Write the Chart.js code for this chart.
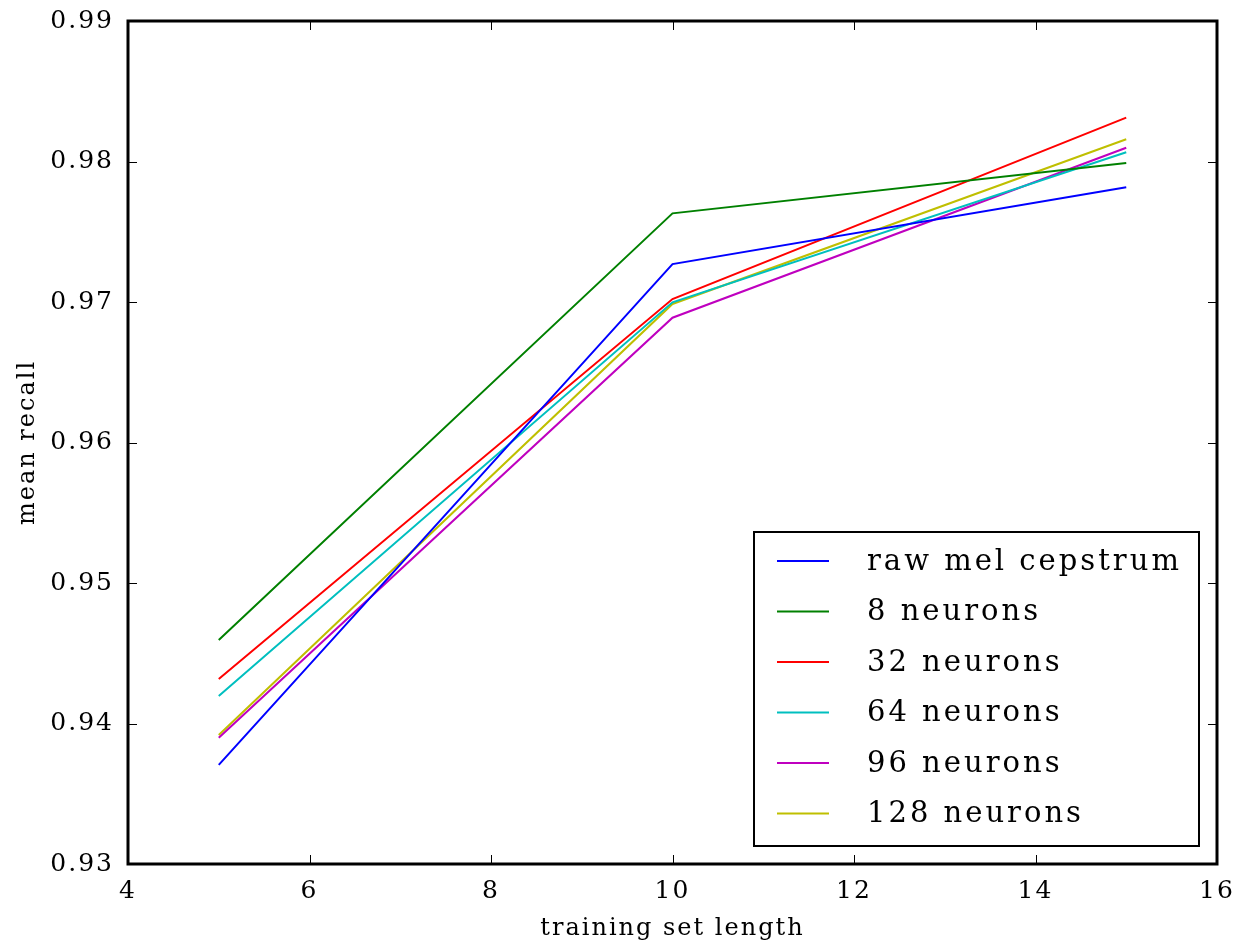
<!DOCTYPE html>
<html>
<head>
<meta charset="utf-8">
<script src="https://cdn.jsdelivr.net/npm/chart.js@4/dist/chart.umd.min.js"></script>
<style>
  html, body { margin: 0; padding: 0; background: #fff; }
  #wrap { width: 1237px; height: 946px; }
</style>
</head>
<body>
<div id="wrap"><canvas id="recallChart" width="1237" height="946"></canvas></div>
<script>
// training set lengths
const lengths = [5, 10, 15];

// mean recall per feature set
const rawMel = [0.93705, 0.97270, 0.97816];
const neurons8 = [0.94594, 0.97631, 0.97989];
const neurons32 = [0.94317, 0.97021, 0.98312];
const neurons64 = [0.94196, 0.96998, 0.98066];
const neurons96 = [0.93899, 0.96888, 0.98098];
const neurons128 = [0.93918, 0.96986, 0.98158];

const seriesNames = ['raw mel cepstrum', '8 neurons', '32 neurons', '64 neurons', '96 neurons', '128 neurons'];
const seriesColors = ['#0000ff', '#008000', '#ff0000', '#00bfbf', '#bf00bf', '#bfbf00'];

const xTicks = [4, 6, 8, 10, 12, 14, 16];
const yTicks = [0.93, 0.94, 0.95, 0.96, 0.97, 0.98, 0.99];

const FONT = "'DejaVu Serif', serif";

function toPoints(values) {
    return lengths.map((x, i) => ({ x: x, y: values[i] }));
}

const allSeries = [rawMel, neurons8, neurons32, neurons64, neurons96, neurons128];

// frame, inward ticks on all four sides, and the boxed legend
const framePlugin = {
    id: 'frame',
    beforeDraw(chart) {
        chart.ctx.letterSpacing = '2px';
    },
    afterDraw(chart) {
        const ctx = chart.ctx;
        const a = chart.chartArea;
        const xs = chart.scales.x;
        const ys = chart.scales.y;
        ctx.save();
        ctx.strokeStyle = '#000';
        ctx.lineWidth = 1;
        xTicks.forEach(t => {
            const px = Math.round(xs.getPixelForValue(t)) + 0.5;
            ctx.beginPath();
            ctx.moveTo(px, a.bottom); ctx.lineTo(px, a.bottom - 9);
            ctx.moveTo(px, a.top); ctx.lineTo(px, a.top + 9);
            ctx.stroke();
        });
        yTicks.forEach(t => {
            const py = Math.round(ys.getPixelForValue(t)) + 0.5;
            ctx.beginPath();
            ctx.moveTo(a.left, py); ctx.lineTo(a.left + 9, py);
            ctx.moveTo(a.right, py); ctx.lineTo(a.right - 9, py);
            ctx.stroke();
        });
        ctx.lineWidth = 3;
        ctx.strokeRect(a.left, a.top, a.right - a.left, a.bottom - a.top);

        // legend
        const bx = 754, by = 532, bw = 445, bh = 314;
        ctx.fillStyle = '#fff';
        ctx.fillRect(bx, by, bw, bh);
        ctx.lineWidth = 2;
        ctx.strokeRect(bx, by, bw, bh);
        ctx.font = '29px ' + FONT;
        ctx.letterSpacing = '3px';
        ctx.textBaseline = 'middle';
        ctx.textAlign = 'left';
        chart.data.datasets.forEach((ds, i) => {
            const y = 561 + i * 50.5;
            ctx.strokeStyle = ds.borderColor;
            ctx.lineWidth = 2;
            ctx.beginPath();
            ctx.moveTo(777, y); ctx.lineTo(829, y);
            ctx.stroke();
            ctx.fillStyle = '#000';
            ctx.fillText(ds.label, 867, y + 1);
        });
        ctx.restore();
    }
};

new Chart(document.getElementById('recallChart'), {
    type: 'line',
    data: {
        datasets: allSeries.map((vals, i) => ({
            label: seriesNames[i],
            data: toPoints(vals),
            borderColor: seriesColors[i],
            backgroundColor: seriesColors[i],
            borderWidth: 2,
            pointRadius: 0,
            tension: 0,
            fill: false
        }))
    },
    options: {
        responsive: false,
        animation: false,
        layout: { padding: { top: 21, right: 20, left: 0, bottom: 0 } },
        plugins: {
            legend: { display: false },
            tooltip: { enabled: false }
        },
        scales: {
            x: {
                type: 'linear',
                min: 4,
                max: 16,
                afterBuildTicks: s => { s.ticks = xTicks.map(v => ({ value: v })); },
                afterFit: s => { s.height = 82; s.paddingLeft = 0; s.paddingRight = 0; },
                grid: { display: false, drawTicks: false },
                border: { display: false },
                ticks: {
                    color: '#000',
                    padding: 12,
                    maxRotation: 0,
                    font: { family: FONT, size: 25 },
                    callback: v => String(v)
                },
                title: {
                    display: true,
                    text: 'training set length',
                    color: '#000',
                    font: { family: FONT, size: 24 },
                    padding: { top: 0, bottom: 3 }
                }
            },
            y: {
                type: 'linear',
                min: 0.93,
                max: 0.99,
                afterBuildTicks: s => { s.ticks = yTicks.map(v => ({ value: v })); },
                afterFit: s => { s.width = 128; s.paddingTop = 0; s.paddingBottom = 0; },
                grid: { display: false, drawTicks: false },
                border: { display: false },
                ticks: {
                    color: '#000',
                    padding: 14,
                    font: { family: FONT, size: 25 },
                    callback: v => v.toFixed(2)
                },
                title: {
                    display: true,
                    text: 'mean recall',
                    color: '#000',
                    font: { family: FONT, size: 24 },
                    padding: { top: 13, bottom: 0 }
                }
            }
        }
    },
    plugins: [framePlugin]
});
</script>
</body>
</html>
